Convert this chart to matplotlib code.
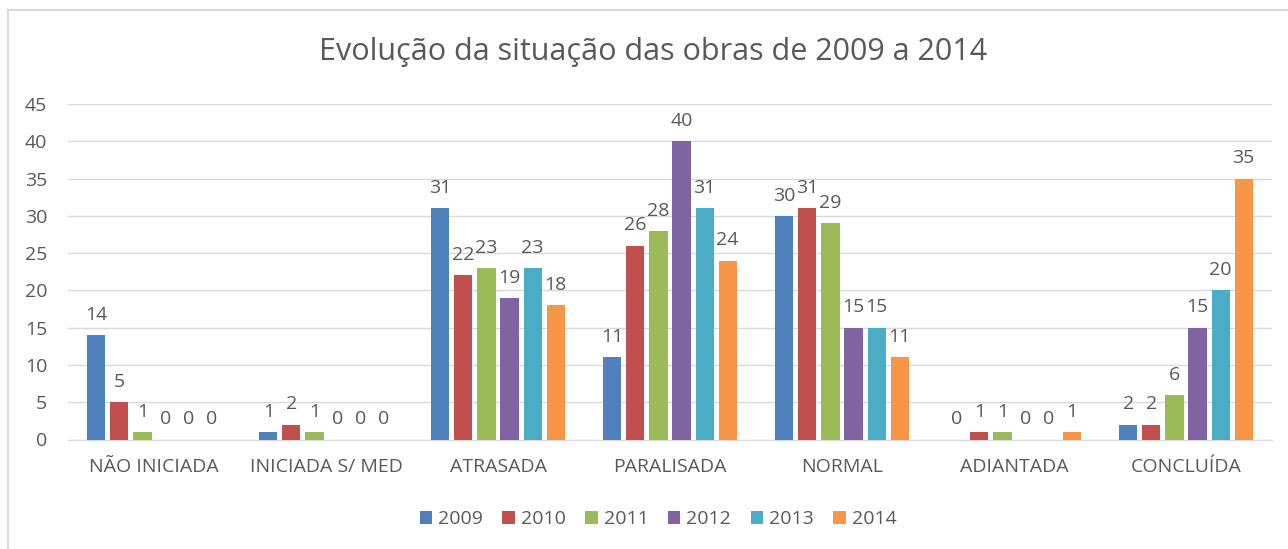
import matplotlib.pyplot as plt
import numpy as np

categorias = ['NÃO INICIADA', 'INICIADA S/ MED', 'ATRASADA', 'PARALISADA',
              'NORMAL', 'ADIANTADA', 'CONCLUÍDA']
anos = ['2009', '2010', '2011', '2012', '2013', '2014']
v2009 = [14, 1, 31, 11, 30, 0, 2]
v2010 = [5, 2, 22, 26, 31, 1, 2]
v2011 = [1, 1, 23, 28, 29, 1, 6]
v2012 = [0, 0, 19, 40, 15, 0, 15]
v2013 = [0, 0, 23, 31, 15, 0, 20]
v2014 = [0, 0, 18, 24, 11, 1, 35]
series = [v2009, v2010, v2011, v2012, v2013, v2014]
cores = ['#4F81BD', '#C0504D', '#9BBB59', '#8064A2', '#4BACC6', '#F79646']

plt.rcParams['font.family'] = ['Open Sans', 'DejaVu Sans']
cinza = '#595959'

fig = plt.figure(figsize=(12.88, 5.49), dpi=100)
ax = fig.add_axes([68 / 1288, 109.5 / 549, 1204 / 1288, 335.5 / 549])

x = np.arange(len(categorias))
passo = 0.134
largura = 0.105
for i, (vals, cor, ano) in enumerate(zip(series, cores, anos)):
    pos = x + (i - 2.5) * passo
    ax.bar(pos, vals, largura, color=cor, label=ano, zorder=3)
    for xb, v in zip(pos, vals):
        ax.text(xb, v + 1.5, str(v), ha='center', va='bottom',
                fontsize=14, color=cinza)

ax.set_xlim(-0.5, len(categorias) - 0.5)
ax.set_ylim(0, 45)
ax.set_yticks(range(0, 46, 5))
ax.set_xticks(x)
ax.set_xticklabels(categorias)
ax.grid(axis='y', color='#D9D9D9', linewidth=1, zorder=0)
for s in ['top', 'right', 'left']:
    ax.spines[s].set_visible(False)
ax.spines['bottom'].set_color('#D9D9D9')
ax.tick_params(axis='both', length=0, colors=cinza, labelsize=14)
ax.tick_params(axis='x', pad=13)
ax.tick_params(axis='y', pad=15)

fig.text(653 / 1288, 1 - 52 / 549, 'Evolução da situação das obras de 2009 a 2014',
         ha='center', va='center', fontsize=22, color=cinza)

fig.legend(loc='center', bbox_to_anchor=(658 / 1288, 1 - 519 / 549), ncol=6,
           frameon=False, fontsize=14, handlelength=0.65, handleheight=0.65,
           handletextpad=0.3, columnspacing=1.0, labelcolor=cinza)

# moldura do gráfico
fig.add_artist(plt.Line2D([8 / 1288, 8 / 1288], [0, 1 - 10 / 549], color='#D9D9D9', lw=1.5))
fig.add_artist(plt.Line2D([8 / 1288, 1], [1 - 10 / 549, 1 - 10 / 549], color='#D9D9D9', lw=1.5))

fig.savefig('out.png', dpi=100)
